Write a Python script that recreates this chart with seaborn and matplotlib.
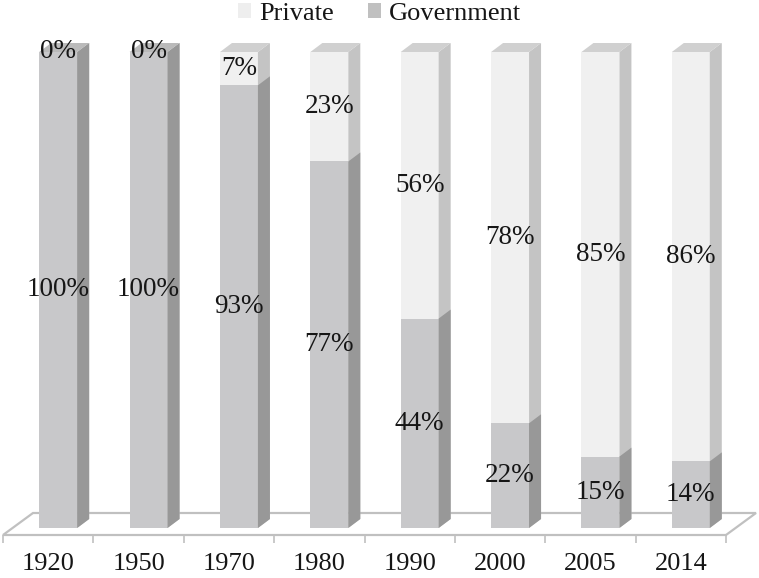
import numpy as np
import pandas as pd
import seaborn as sns
import matplotlib.pyplot as plt
from matplotlib.patches import Polygon, Patch

years = ['1920', '1950', '1970', '1980', '1990', '2000', '2005', '2014']
government = [100, 100, 93, 77, 44, 22, 15, 14]
private = [0, 0, 7, 23, 56, 78, 85, 86]
series = ['Private', 'Government']

# front / side / top shades for the fake 3d look
priv_front, priv_side, priv_top = '#f0f0f0', '#c4c4c4', '#d0d0d0'
gov_front, gov_side, gov_top = '#c8c8ca', '#989898', '#bababa'
line_col = '#c0c0c0'
txt_col = '#161616'

sns.set_style('white')
plt.rcParams['font.family'] = ['Liberation Serif', 'DejaVu Serif']

df = pd.DataFrame({'Year': years, 'Government': government, 'Private': private})
df['Total'] = df['Government'] + df['Private']

fig = plt.figure(figsize=(7.59, 5.78), dpi=100)
ax = fig.add_axes([3 / 759, 50 / 578, 723 / 759, 476 / 578])

# stacked bars: total in private colour, government drawn over it
sns.barplot(data=df, x='Year', y='Total', color=priv_front, saturation=1,
            width=0.42, errorbar=None, linewidth=0, ax=ax, zorder=2)
n_priv = len(ax.patches)
sns.barplot(data=df, x='Year', y='Government', color=gov_front, saturation=1,
            width=0.42, errorbar=None, linewidth=0, ax=ax, zorder=3)

ax.set_xlim(-0.5, len(years) - 0.5)
ax.set_ylim(0, 100)
ax.set_xlabel('')
ax.set_ylabel('')
ax.set_yticks([])

# pixels per data unit
p0 = ax.transData.transform((0, 0))
p1 = ax.transData.transform((1, 1))
sx, sy = p1 - p0
shift = 10 / sx
dx, dy = 12 / sx, 9 / sy

for k, bar in enumerate(ax.patches):
    i = k % len(years)
    is_gov = k >= n_priv
    bar.set_x(bar.get_x() + shift)
    x0, y0, w, h = bar.get_x(), bar.get_y(), bar.get_width(), bar.get_height()
    z = 3 if is_gov else 2
    side = Polygon([(x0 + w, y0), (x0 + w + dx, y0 + dy), (x0 + w + dx, y0 + h + dy), (x0 + w, y0 + h)],
                   closed=True, facecolor=gov_side if is_gov else priv_side, edgecolor='none',
                   zorder=z, clip_on=False)
    ax.add_patch(side)
    top_visible = (private[i] == 0) if is_gov else (private[i] > 0)
    if top_visible:
        top = Polygon([(x0, y0 + h), (x0 + w, y0 + h), (x0 + w + dx, y0 + h + dy), (x0 + dx, y0 + h + dy)],
                      closed=True, facecolor=gov_top if is_gov else priv_top, edgecolor='none',
                      zorder=z, clip_on=False)
        ax.add_patch(top)
    if is_gov:
        cx = x0 + w / 2
        ax.text(cx, government[i] / 2, f'{government[i]}%', ha='center', va='center',
                fontsize=19.5, color=txt_col, zorder=5)
        ax.text(cx, government[i] + private[i] / 2, f'{private[i]}%', ha='center', va='center',
                fontsize=19.5, color=txt_col, zorder=5)

# floor
yf, yb, bx = -7 / sy, 15 / sy, 30 / sx
floor = Polygon([(-0.5, yf), (7.5, yf), (7.5 + bx, yb), (-0.5 + bx, yb)], closed=True,
                facecolor='white', edgecolor=line_col, linewidth=1.6, zorder=0.5, clip_on=False)
ax.add_patch(floor)

for s in ax.spines.values():
    s.set_visible(False)
ax.spines['bottom'].set_position(('outward', 7 * 72 / 100))
ax.set_xticks(range(len(years)))
ax.set_xticklabels(years)
ax.set_xticks(np.arange(-0.5, len(years), 1), minor=True)
ax.tick_params(axis='x', which='both', bottom=True)
ax.tick_params(axis='x', which='major', length=0, pad=13, labelsize=19, labelcolor=txt_col)
ax.tick_params(axis='x', which='minor', length=6, width=1.2, color=line_col, direction='out')

handles = [Patch(facecolor=c, edgecolor='none') for c in ['#eeeeee', '#c0c0c0']]
fig.legend(handles, series, loc='upper center', bbox_to_anchor=(0.5, 1.0), ncol=2, frameon=False,
           fontsize=19, handlelength=0.5, handleheight=0.5, handletextpad=0.3, columnspacing=1.3,
           borderaxespad=0, borderpad=0.1, labelcolor=txt_col)

fig.savefig('out.png', dpi=100)
